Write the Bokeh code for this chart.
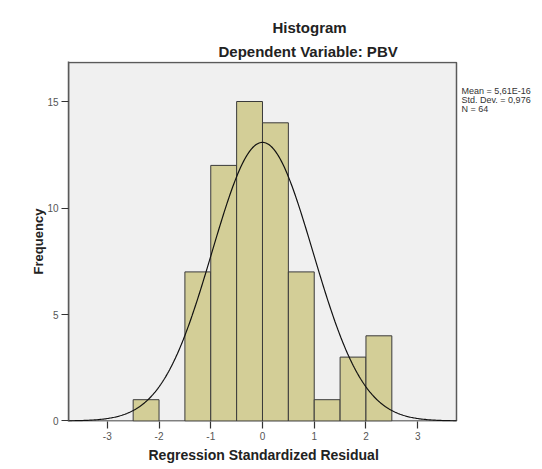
import numpy as np
from bokeh.plotting import figure
from bokeh.models import Title, FixedTicker, Range1d, ColumnDataSource
from bokeh.embed import file_html
from bokeh.resources import INLINE

# ---- data ----
bin_left = [-2.5, -2.0, -1.5, -1.0, -0.5, 0.0, 0.5, 1.0, 1.5, 2.0]
bin_right = [-2.0, -1.5, -1.0, -0.5, 0.0, 0.5, 1.0, 1.5, 2.0, 2.5]
counts = [1, 0, 7, 12, 15, 14, 7, 1, 3, 4]
mean = 5.61e-16
std_dev = 0.976
n_obs = 64
bin_width = 0.5
x_ticks = [-3, -2, -1, 0, 1, 2, 3]
x_tick_labels = ["-3", "-2", "-1", "0", "1", "2", "3"]
y_ticks = [0, 5, 10, 15]
stats_lines = ["Mean = 5,61E-16", "Std. Dev. = 0,976", "N = 64"]

# plot-area extent (data units)
X_MIN, X_MAX = -3.75, 3.75
Y_MAX = 16.83

FONT = "Liberation Sans"

# the frame is extended to the right so that the statistics text can be drawn inside it
p = figure(width=542, height=469,
           x_range=Range1d(X_MIN, 5.4125), y_range=Range1d(-0.0235, 16.878),
           output_backend="svg", toolbar_location=None, title=None,
           min_border_left=68, min_border_right=0,
           min_border_top=61, min_border_bottom=48)

p.background_fill_color = "white"
p.border_fill_color = "white"
p.outline_line_color = None
p.xgrid.visible = False
p.ygrid.visible = False

# grey plot area with its box
p.quad(left=[X_MIN], right=[X_MAX], bottom=[0], top=[Y_MAX],
       fill_color="#F0F0F0", line_color="#5a5a5a", line_width=1.5)

# histogram bars (skip empty bins)
src = ColumnDataSource(dict(
    left=[l for l, c in zip(bin_left, counts) if c > 0],
    right=[r for r, c in zip(bin_right, counts) if c > 0],
    top=[c for c in counts if c > 0],
))
p.quad(left="left", right="right", bottom=0, top="top", source=src,
       fill_color="#D3CE97", line_color="#3a3a3a", line_width=1)

# fitted normal curve
xs = np.linspace(X_MIN, X_MAX, 400)
ys = n_obs * bin_width * np.exp(-0.5 * ((xs - mean) / std_dev) ** 2) / (std_dev * np.sqrt(2 * np.pi))
p.line(xs, ys, line_color="#111111", line_width=1.2)

# statistics text
p.text(x=[3.847] * 3, y=[15.47, 15.06, 14.65], text=stats_lines,
       text_font={"value": FONT}, text_font_size="9px", text_color="#333333",
       text_baseline="middle", text_align="left")

# axes
for ax in (p.xaxis[0], p.yaxis[0]):
    ax.axis_line_color = "#5a5a5a"
    ax.axis_line_width = 1.5
    ax.major_tick_line_color = "#333333"
    ax.major_tick_line_width = 1.2
    ax.major_tick_out = 7
    ax.major_tick_in = 0
    ax.minor_tick_line_color = None
    ax.major_label_text_font = FONT
    ax.major_label_text_font_size = "10px"
    ax.major_label_text_color = "#555555"
    ax.axis_label_text_font = FONT
    ax.axis_label_text_font_style = "bold"
    ax.axis_label_text_color = "#222222"

p.xaxis.axis_line_color = None
p.xaxis.ticker = FixedTicker(ticks=x_ticks)
p.xaxis.major_label_overrides = {t: lab for t, lab in zip(x_ticks, x_tick_labels)}
p.yaxis.ticker = FixedTicker(ticks=y_ticks)
p.xaxis.major_label_standoff = 3
p.yaxis.axis_label = "Frequency"
p.yaxis.axis_label_text_font_size = "13px"
p.yaxis.major_label_standoff = 3
p.yaxis.axis_label_standoff = -2

# x-axis title (as a left-aligned title so it centres on the grey area)
p.add_layout(Title(text="Regression Standardized Residual", align="left", offset=80,
                   text_font=FONT, text_font_size="14px", text_font_style="bold",
                   text_color="#222222", standoff=4), "below")

# titles (added nearest-to-frame first)
p.add_layout(Title(text="Dependent Variable: PBV", align="left", offset=150,
                   text_font=FONT, text_font_size="15px", text_font_style="bold",
                   text_color="#222222", standoff=3), "above")
p.add_layout(Title(text="Histogram", align="left", offset=204,
                   text_font=FONT, text_font_size="15px", text_font_style="bold",
                   text_color="#222222", standoff=8), "above")

open("out.html", "w").write(file_html(p, INLINE))
